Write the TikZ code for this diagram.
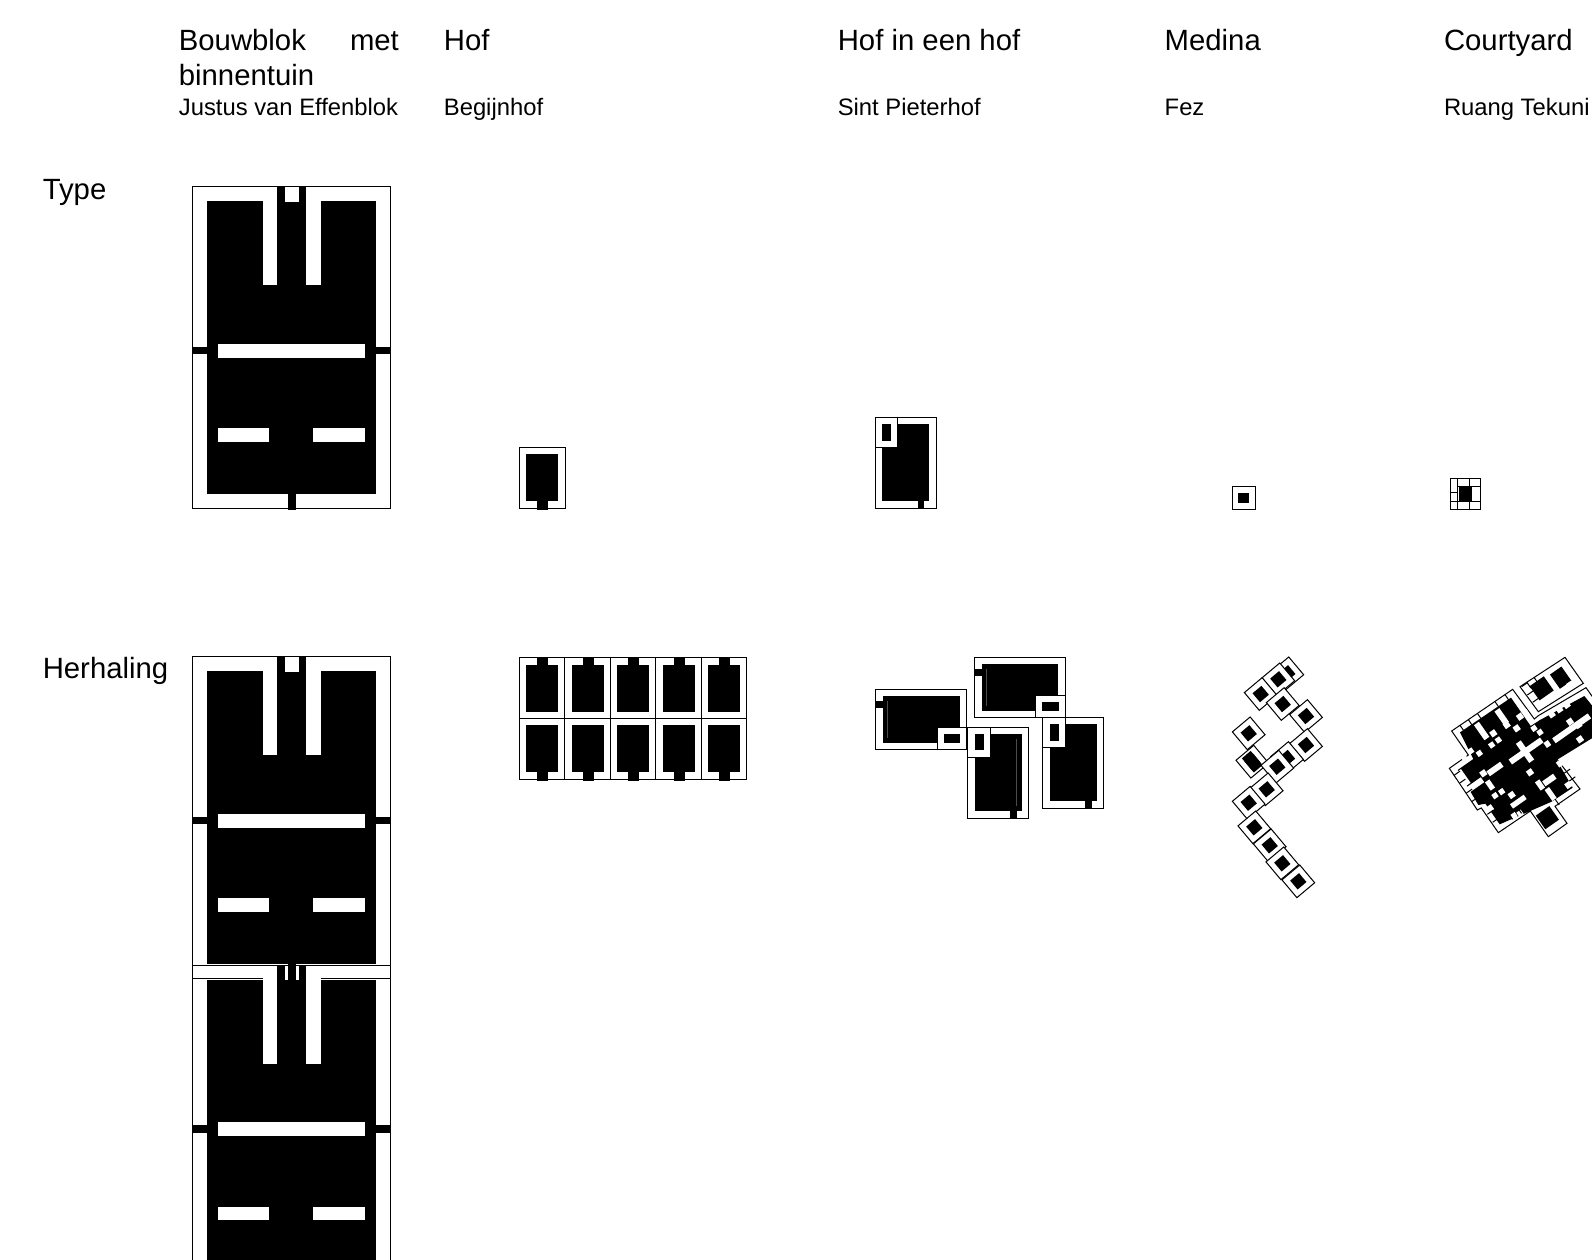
\documentclass[tikz,border=0pt]{standalone}
\usepackage{fontspec}
\setmainfont{Liberation Sans}
\usepackage{tikz}

% bouwblok met binnentuin, #1 = verschuiving omlaag
\newcommand{\bouwblok}[1]{%
  \begin{scope}[yshift=-#1pt]
    \path[leeg] (192,186.7) rectangle (390.7,508.7);
    \path[vol] (206.7,201.3) rectangle (376,494);
    \path[vol] (277.3,186.7) rectangle (306.3,201.5);
    \path[leeg] (263,186.7) rectangle (277.3,285.3);
    \path[leeg] (306.3,186.7) rectangle (320.7,285.3);
    \path[leeg] (285.3,186.7) rectangle (298.5,201.5);
    \path[leeg] (218.3,343.7) rectangle (365.3,357.7);
    \path[leeg] (218.3,428.3) rectangle (269.3,441.7);
    \path[leeg] (313.3,428.3) rectangle (365.3,441.7);
    \draw[lijn] (192,186.7) rectangle (390.7,508.7);
    \path[vol] (192,346.7) rectangle (207,354.3);
    \path[vol] (376,346.7) rectangle (391,354.3);
    \path[vol] (288.3,494) rectangle (296.3,510);
  \end{scope}}
% staand hof met klein hof in de hoek
\newcommand{\hofstaand}[3]{%
  \begin{scope}[shift={(#1,#2)}]
    \path[kader] (0,0) rectangle (61,91);
    \path[vol] (7.3,7) rectangle (54,83.7);
    \path[vol] (42.7,83.7) rectangle (49.3,91.7);
    \path[kader] (0,0) rectangle (22.3,30);
    \path[vol] (7.3,7) rectangle (16,23.4);
    #3
  \end{scope}}
% liggend hof met klein hof in de hoek
\newcommand{\hofliggend}[2]{%
  \begin{scope}[shift={(#1,#2)}]
    \path[kader] (0,0) rectangle (91,60.7);
    \path[vol] (7.6,7.3) rectangle (84.3,53.7);
    \path[vol] (0,12) rectangle (7.6,18.7);
    \draw[grijs] (12,12) -- (12,48.7);
    \path[kader] (61.3,38.7) rectangle (91,60.7);
    \path[vol] (68.3,45.3) rectangle (84.6,53.7);
  \end{scope}}
% een eenheid van de medina
\newcommand{\huisje}[2]{%
  \begin{scope}[shift={(#1,#2)},rotate=-50]
    \path[kader] (-11.6,-11.6) rectangle (11.6,11.6);
    \path[vol] (-5.8,-5.8) rectangle (5.8,5.8);
  \end{scope}}

\begin{document}
\begin{tikzpicture}[x=1pt,y=-1pt,
  kop/.style={anchor=base west,inner sep=0pt,font=\fontsize{29.3}{35}\selectfont},
  sub/.style={anchor=base west,inner sep=0pt,font=\fontsize{23.8}{28}\selectfont},
  kader/.style={draw=black,fill=white,line width=1pt},
  leeg/.style={fill=white},
  vol/.style={fill=black},
  grijs/.style={draw=black!70,line width=0.7pt},
  lijn/.style={draw=black,line width=1pt}]
\useasboundingbox (0,0) rectangle (1592,1259);
\clip (0,0) rectangle (1592,1259);
\fill[white] (0,0) rectangle (1592,1259);

\node[kop,text width=220pt,align=justify] (kopblok) at (178.7,50.5) {Bouwblok met binnentuin};
\node[kop] (kophof) at (443.7,50.5) {Hof};
\node[kop] (kophofhof) at (837.6,50.5) {Hof in een hof};
\node[kop] (kopmedina) at (1164.5,50.5) {Medina};
\node[kop] (kopcourt) at (1443.8,50.5) {Courtyard};
\node[sub] (subblok) at (178.7,115) {Justus van Effenblok};
\node[sub] (subhof) at (443.7,115) {Begijnhof};
\node[sub] (subhofhof) at (837.6,115) {Sint Pieterhof};
\node[sub] (submedina) at (1164.5,115) {Fez};
\node[sub] (subcourt) at (1443.8,115) {Ruang Tekuni};
\node[kop] (type) at (42.6,199) {Type};
\node[kop] (herhaling) at (42.6,678) {Herhaling};

% type
\bouwblok{0}
\path[kader] (519.3,447.3) rectangle (565.3,508.3);
\path[vol] (526.3,454.3) rectangle (558.3,501);
\path[vol] (537.3,501) rectangle (548.3,509.5);
\hofstaand{875}{417.3}{}
\path[kader] (1232,486) rectangle (1255,509.3);
\path[vol] (1238.3,492.7) rectangle (1249,503);
\path[kader] (1450,478.7) rectangle (1480.7,509.3);
\draw[lijn] (1457.7,478.7) -- (1457.7,509.3);
\draw[lijn] (1469.3,478.7) -- (1469.3,486);
\draw[lijn] (1469.3,501.7) -- (1469.3,509.3);
\draw[lijn] (1450,492.7) -- (1458,492.7);
\draw[lijn] (1450,501.7) -- (1480.7,501.7);
\draw[lijn] (1458,486) -- (1480.7,486);
\path[vol] (1458.7,486) rectangle (1472,501.7);

% herhaling
\bouwblok{470}
\bouwblok{778.3}
\path[vol] (288.3,964) rectangle (296.3,980);
\draw[lijn] (192,978.7) -- (263,978.7);
\draw[lijn] (320.7,978.7) -- (390.7,978.7);

\foreach \i in {0,...,4}{
  \begin{scope}[xshift=\i*45.45pt]
    \path[kader] (519.3,657.7) rectangle (565,718.3);
    \path[kader] (519.3,718.3) rectangle (565,779.3);
    \path[vol] (526.3,665) rectangle (558.3,712.3);
    \path[vol] (537.3,656.5) rectangle (548.3,665);
    \path[vol] (526.3,725.3) rectangle (558.3,772);
    \path[vol] (537.3,772) rectangle (548.3,780.5);
  \end{scope}}

\hofliggend{875.7}{689}
\hofliggend{974}{657}
\hofstaand{967.7}{727}{\draw[grijs] (49,12) -- (49,79);}
\hofstaand{1042.7}{717.3}{}

\huisje{1287.3}{673.3}
\huisje{1278.3}{679.3}
\huisje{1260.7}{694}
\huisje{1282.7}{704}
\huisje{1306}{716}
\huisje{1248.7}{733.3}
\huisje{1306}{745}
\huisje{1287}{758}
\huisje{1252.3}{761.7}
\path[vol,rotate around={-50:(1252.3,761.7)}] (1243,756) rectangle (1261.5,767.5);
\huisje{1277.3}{766.7}
\huisje{1266.7}{789.3}
\huisje{1248.7}{802.7}
\huisje{1254.3}{827.3}
\huisje{1269.7}{845.3}
\huisje{1282.3}{863.3}
\huisje{1298.3}{881.3}

% courtyards: maten in pixels van de uitsnede, 3x
\begin{scope}[shift={(1440,645)},x=0.3333pt,y=-0.3333pt]
  \path[kader] (240,125) -- (375,37) -- (430,115) -- (295,200) -- cycle;
  \path[kader] (35,258) -- (218,133) -- (283,222) -- (295,212) -- (438,128)
    -- (475,180) -- (475,262) -- (345,335) -- (420,432) -- (345,484) -- (381,535)
    -- (325,575) -- (271,498) -- (175,563) -- (124,489) -- (112,495) -- (28,370)
    -- (85,330) -- cycle;
  \path[vol] (60,262) -- (213,158) -- (272,243) -- (300,225) -- (433,153)
    -- (475,205) -- (475,268) -- (350,345) -- (398,428) -- (335,470) -- (179,538)
    -- (136,476) -- (115,480) -- (53,375) -- (100,342) -- cycle;
  % zwarte vlakken als losse eenheden
  \foreach \bx/\by/\bu/\bv in {305/130/52/52,362/98/42/52,322/518/50/50}{
    \path[vol,shift={(\bx,\by)},rotate=35] (-\bu/2,-\bv/2) rectangle (\bu/2,\bv/2);}
  % witte gaten
  \foreach \bx/\by/\bu/\bv in {125/258/18/55,160/265/18/18,175/285/16/16,155/300/16/16,
      92/318/16/16,118/325/16/16,70/335/16/16,185/215/18/50,200/240/18/18,230/250/18/18,
      240/215/18/18,257/203/16/16,282/250/16/16,300/262/16/16,255/320/18/70,258/318/115/18,
      165/372/50/18,322/297/16/18,360/355/18/18,328/405/40/18,270/382/18/18,130/385/18/18,
      70/398/18/50,105/420/55/18,150/420/16/30,165/452/16/16,185/440/16/16,215/450/18/18,
      235/470/50/16,240/505/16/16,222/512/16/16,300/420/16/30,332/447/16/40,385/420/18/18,
      150/490/18/18,335/208/18/18,358/193/18/18,380/180/18/18,390/230/18/18,395/250/130/18,
      420/283/18/18,415/240/18/18,390/120/16/18}{
    \path[leeg,shift={(\bx,\by)},rotate=35] (-\bu/2,-\bv/2) rectangle (\bu/2,\bv/2);}
  % kleine streepjes in de witte rand
  \foreach \tx/\ty in {60/241,85/224,112/205,165/170,195/149,260/111,282/97,205/505,232/487,255/470,
      318/510,345/462}{
    \draw[lijn,shift={(\tx,\ty)},rotate=35] (0,0) -- (0,22);}
  \foreach \tx/\ty in {42/391,58/415,78/445,95/470,245/125,262/150,278/172,142/508,158/532,
      372/385,388/408}{
    \draw[lijn,shift={(\tx,\ty)},rotate=35] (0,0) -- (22,0);}
\end{scope}
\end{tikzpicture}
\end{document}
